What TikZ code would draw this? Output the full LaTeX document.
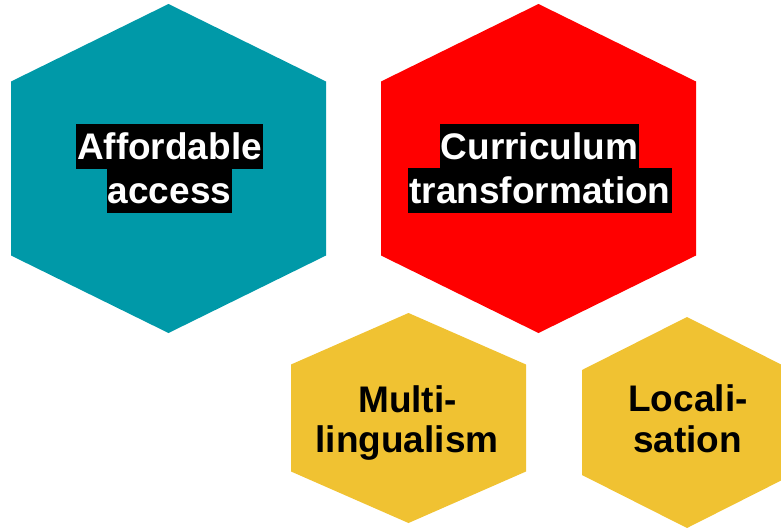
\documentclass[tikz,border=0pt]{standalone}
\usepackage{fontspec}
\setmainfont{Liberation Sans}
\definecolor{tealhex}{RGB}{0,153,168}
\definecolor{redhex}{RGB}{255,0,0}
\definecolor{yellowhex}{RGB}{240,194,50}
\newcommand\myhex[6]{\fill[#1] (#2,#3-#5) -- (#2+#4,#3-#6) -- (#2+#4,#3+#6) -- (#2,#3+#5) -- (#2-#4,#3+#6) -- (#2-#4,#3-#6) -- cycle;}
\begin{document}
\begin{tikzpicture}[x=1pt,y=-1pt,
  hl/.style={fill=black,text=white,font=\fontsize{37}{44}\selectfont\bfseries,inner xsep=1pt,inner ysep=1.9pt,text height=33.5pt,text depth=7.8pt,anchor=base},
  lbl/.style={text=black,font=\fontsize{37}{44}\selectfont\bfseries,inner sep=0pt,anchor=base}]
\useasboundingbox (0,0) rectangle (781,527);
\myhex{tealhex}{168.5}{168.5}{157.5}{164.5}{87}
\myhex{redhex}{538.5}{168.5}{157.5}{164.5}{87}
\myhex{yellowhex}{408.5}{418}{117.5}{105}{53.5}
\myhex{yellowhex}{687}{422.5}{105}{105.5}{52.5}
\node[hl] (aff1) at (169.5,159) {Affordable};
\node[hl] (aff2) at (169.5,203) {access};
\node[hl] (cur1) at (539.5,159) {Curriculum};
\node[hl] (cur2) at (540,203) {transformation};
\node[lbl] (mul1) at (407.5,412) {Multi-};
\node[lbl] (mul2) at (407,452) {lingualism};
\node[lbl] (loc1) at (688,411.5) {Locali-};
\node[lbl] (loc2) at (687.5,452.5) {sation};
\end{tikzpicture}
\end{document}
